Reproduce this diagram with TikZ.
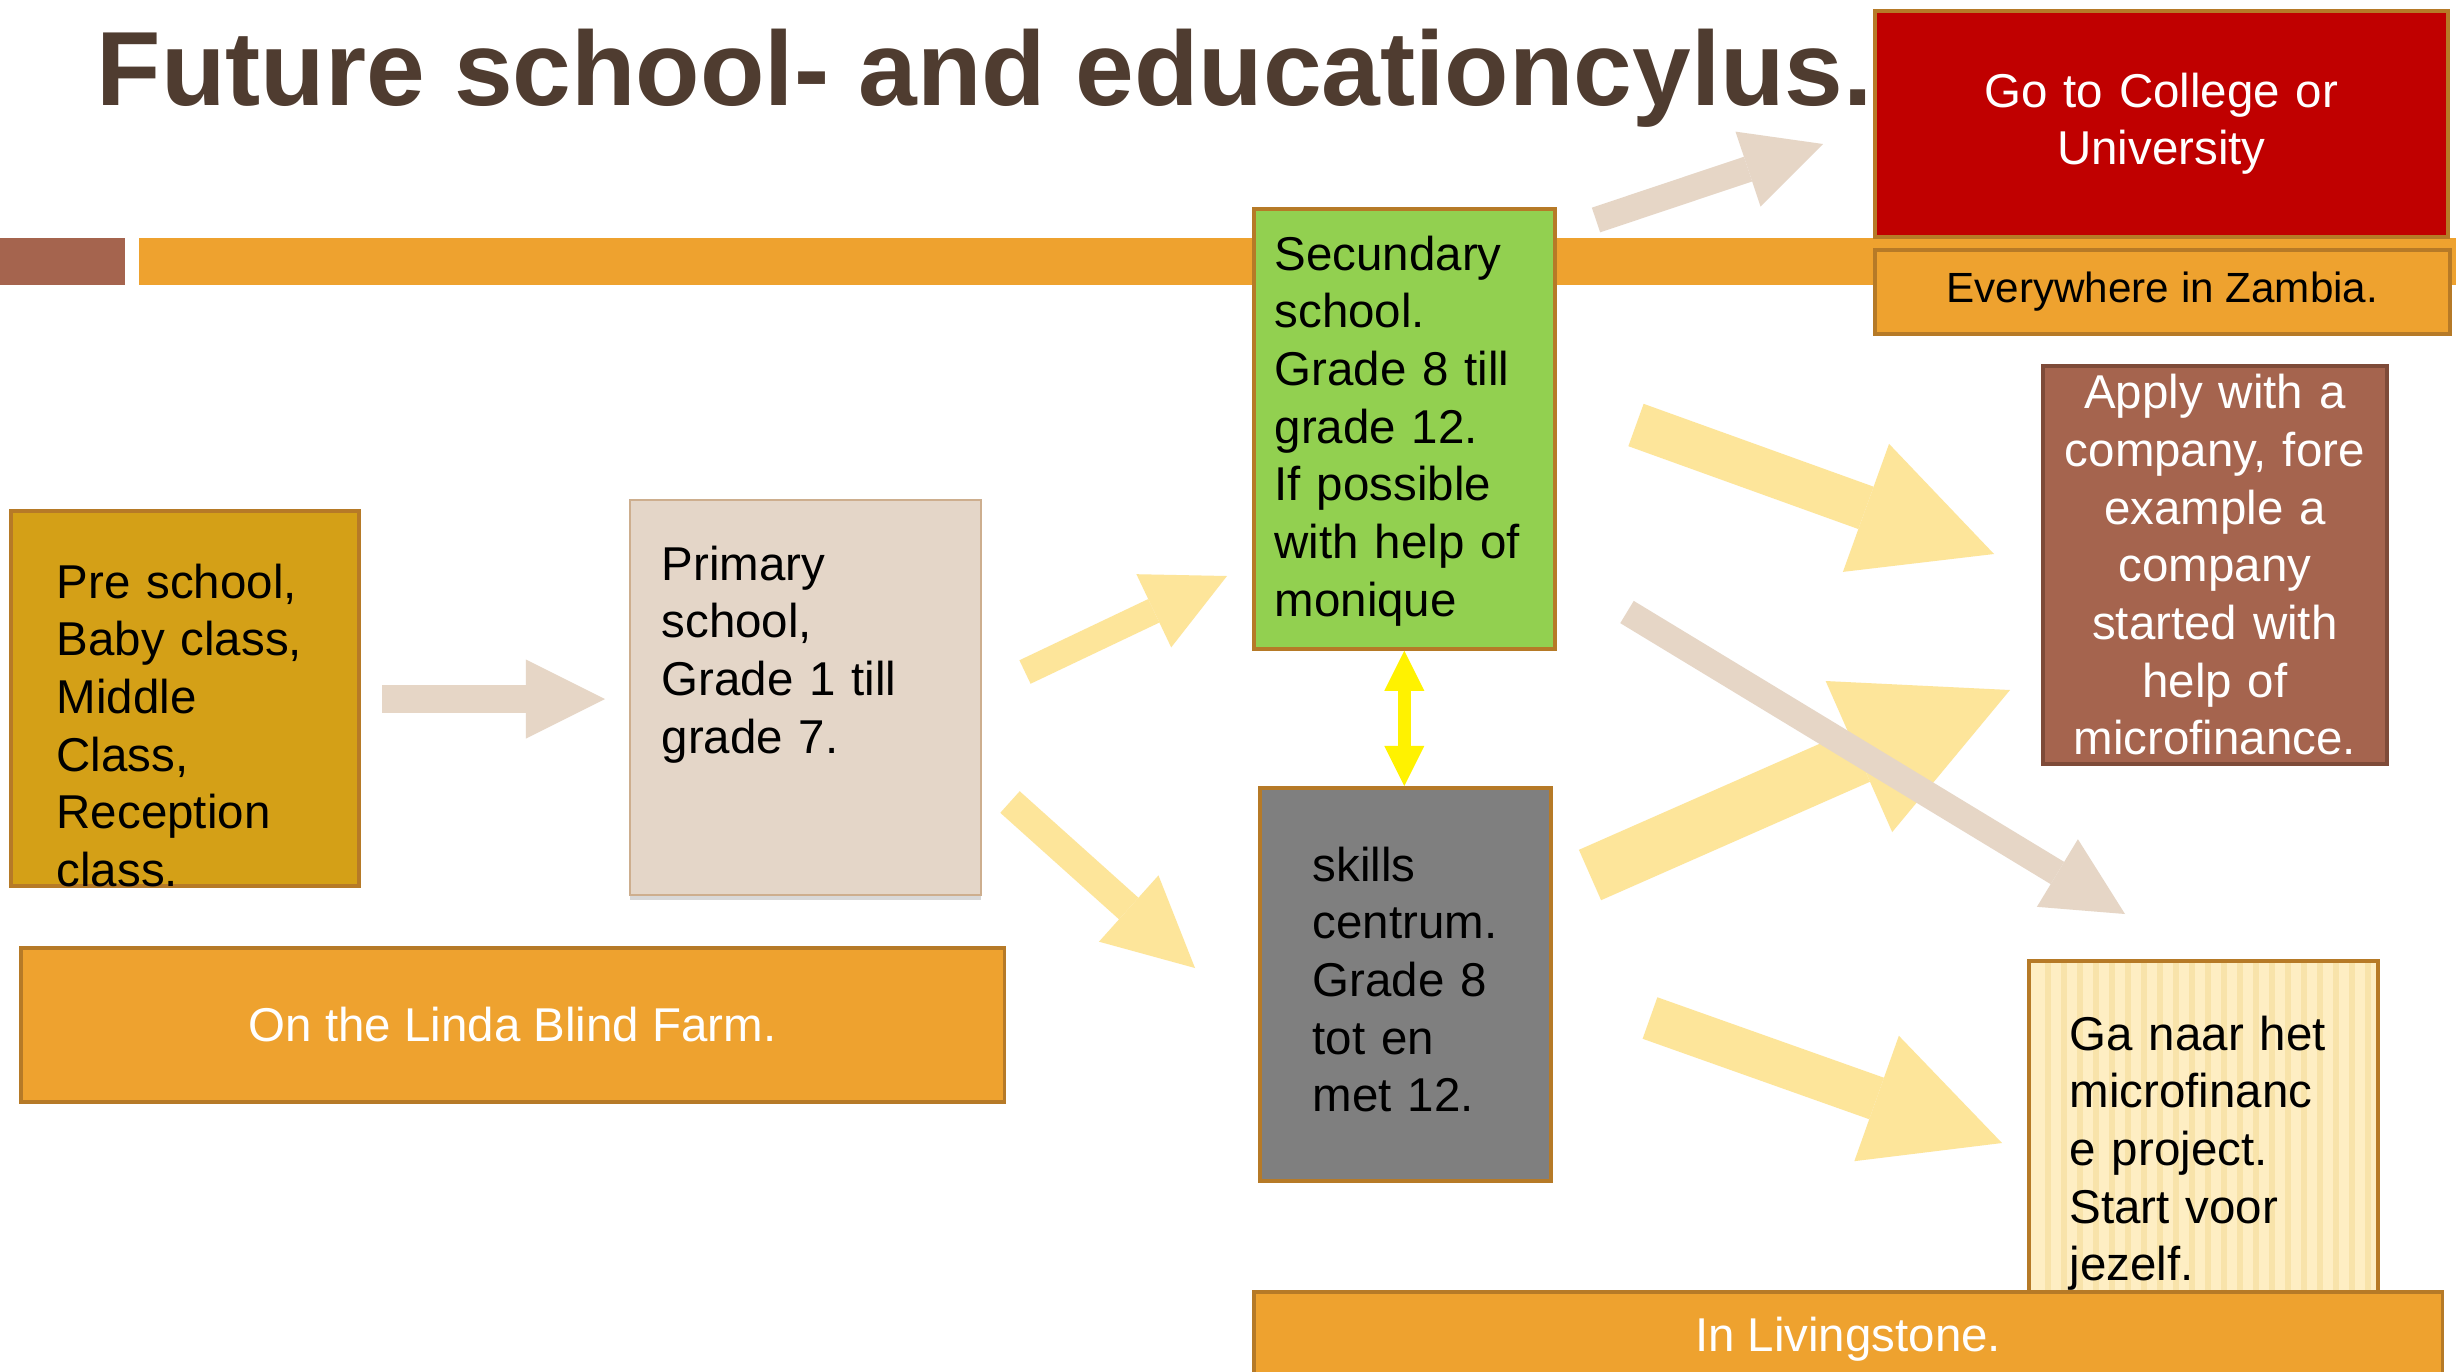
\documentclass[tikz,border=0pt]{standalone}
\usepackage{fontspec}
\setmainfont{Liberation Sans}
\usetikzlibrary{arrows.meta,shadows}

\definecolor{barorange}{HTML}{EEA22F}
\definecolor{edgebrown}{HTML}{B67A27}
\definecolor{accbrown}{HTML}{A5644E}
\definecolor{applyedge}{HTML}{7E4B39}
\definecolor{titlebrown}{HTML}{4F3C30}
\definecolor{unired}{HTML}{C00000}
\definecolor{secgreen}{HTML}{92D050}
\definecolor{pregold}{HTML}{D4A017}
\definecolor{primbeige}{HTML}{E4D6C8}
\definecolor{primedge}{HTML}{CDAE8E}
\definecolor{sklgray}{HTML}{7F7F7F}
\definecolor{gacream}{HTML}{FEEEC3}
\definecolor{gastripe}{HTML}{F8E3AA}
\definecolor{arrbeige}{HTML}{E6D6C6}
\definecolor{arryellow}{HTML}{FDE59A}

\def\bodyfont{\fontsize{13.5pt}{16.4pt}\selectfont}

\tikzset{
  box/.style={draw=edgebrown, line width=0.035cm, inner sep=0pt, anchor=north west},
  txt/.style={inner sep=0pt, anchor=base west, align=left, font=\bodyfont},
  blk/.style={line width=#1},
}

\begin{document}
\begin{tikzpicture}[x=0.01cm, y=-0.01cm]
\useasboundingbox (0,0) rectangle (2456,1372);
\clip (0,0) rectangle (2456,1372);
\fill[white] (0,0) rectangle (2456,1372);

% title and bar
\node[anchor=base west, inner sep=0pt, text=titlebrown,
  font=\fontsize{30pt}{36pt}\selectfont\bfseries] (title) at (96,105) {Future school- and educationcylus.};
\fill[accbrown] (0,238) rectangle (125,285);
\fill[barorange] (139,238) rectangle (2456,285);

% boxes
\node[box, fill=unired, minimum width=5.73cm, minimum height=2.26cm, text width=5.2cm,
  align=center, text=white, font=\bodyfont] (uni) at (1873,9) {Go to College or\\University};
\node[box, fill=barorange, minimum width=5.75cm, minimum height=0.84cm,
  font=\fontsize{12pt}{14pt}\selectfont] (zambia) at (1873,248) {Everywhere in Zambia.};

\node[box, fill=secgreen, minimum width=3.01cm, minimum height=4.4cm] (sec) at (1252,207) {};
\node[txt, text width=2.7cm] (sect) at (1274,270) {Secundary\\school.\\Grade 8 till\\grade 12.\\If possible\\with help of\\monique};

\node[box, fill=pregold, minimum width=3.48cm, minimum height=3.75cm] (pre) at (9,509) {};
\node[txt, text width=3.1cm] (pret) at (56,598) {Pre school,\\Baby class,\\Middle\\Class,\\Reception\\class.};

\node[box, draw=primedge, line width=0.02cm, fill=primbeige, minimum width=3.51cm, minimum height=3.95cm,
  drop shadow={shadow xshift=0cm, shadow yshift=-0.05cm, opacity=0.25, fill=black!60}] (prim) at (629,499) {};
\node[txt, text width=3cm] (primt) at (661,580) {Primary\\school,\\Grade 1 till\\grade 7.};

\node[box, fill=barorange, minimum width=9.83cm, minimum height=1.54cm, text=white,
  font=\bodyfont] (farm) at (19,946) {On the Linda Blind Farm.};

\node[box, fill=sklgray, minimum width=2.91cm, minimum height=3.93cm] (skl) at (1258,786) {};
\node[txt, text width=2.2cm] (sklt) at (1312,881) {skills\\centrum.\\Grade 8\\tot en\\met 12.};

\node[box, draw=applyedge, fill=accbrown, minimum width=3.44cm, minimum height=3.98cm, text width=3.35cm,
  align=center, text=white, font=\bodyfont] (apply) at (2041,364) {Apply with a\\company, fore\\example a\\company\\started with\\help of\\microfinance.};

\node[box, fill=gacream, minimum width=3.49cm, minimum height=3.6cm] (ga) at (2027,959) {};
\foreach \x in {2045,2061,...,2365}{
  \fill[gastripe] (\x,963) rectangle ++(6,330);
}
\node[txt, text width=3cm] (gat) at (2069,1050) {Ga naar het\\microfinanc\\e project.\\Start voor\\jezelf.};

\node[box, fill=barorange, minimum width=11.88cm, minimum height=0.95cm, text=white,
  font=\bodyfont] (liv) at (1252,1290) {In Livingstone.};

% block arrows
\coordinate (A) at (382,699);
\coordinate (B) at (605,699);
\coordinate (C) at (1025,672);
\coordinate (D) at (1227,576);
\coordinate (E) at (1010,802);
\coordinate (F) at (1195,968);
\coordinate (G) at (1596,220);
\coordinate (H) at (1823,144);
\coordinate (I) at (1636,425);
\coordinate (J) at (1994,554);
\coordinate (K) at (1590,875);
\coordinate (L) at (2010,690);
\coordinate (M) at (1627,612);
\coordinate (N) at (2125,914);
\coordinate (O) at (1650,1018);
\coordinate (P) at (2002,1143);

\foreach \s/\e/\w/\h in {C/D/0.26cm/0.81cm, E/F/0.29cm/0.89cm, I/J/0.45cm/1.36cm, K/L/0.55cm/1.65cm, O/P/0.44cm/1.33cm}{
  \draw[arryellow, blk=\w, -{Triangle[width=\h, length=\h, line width=0pt]}] (\s) -- (\e);
}
\foreach \s/\e/\w/\h in {A/B/0.28cm/0.79cm, G/H/0.26cm/0.79cm, M/N/0.26cm/0.79cm}{
  \draw[arrbeige, blk=\w, -{Triangle[width=\h, length=\h, line width=0pt]}] (\s) -- (\e);
}

\draw[yellow, blk=0.13cm, {Triangle[width=0.4cm, length=0.4cm, line width=0pt]}-{Triangle[width=0.4cm, length=0.4cm, line width=0pt]}]
  (sec.south) -- (sec.south |- skl.north);
\end{tikzpicture}
\end{document}
